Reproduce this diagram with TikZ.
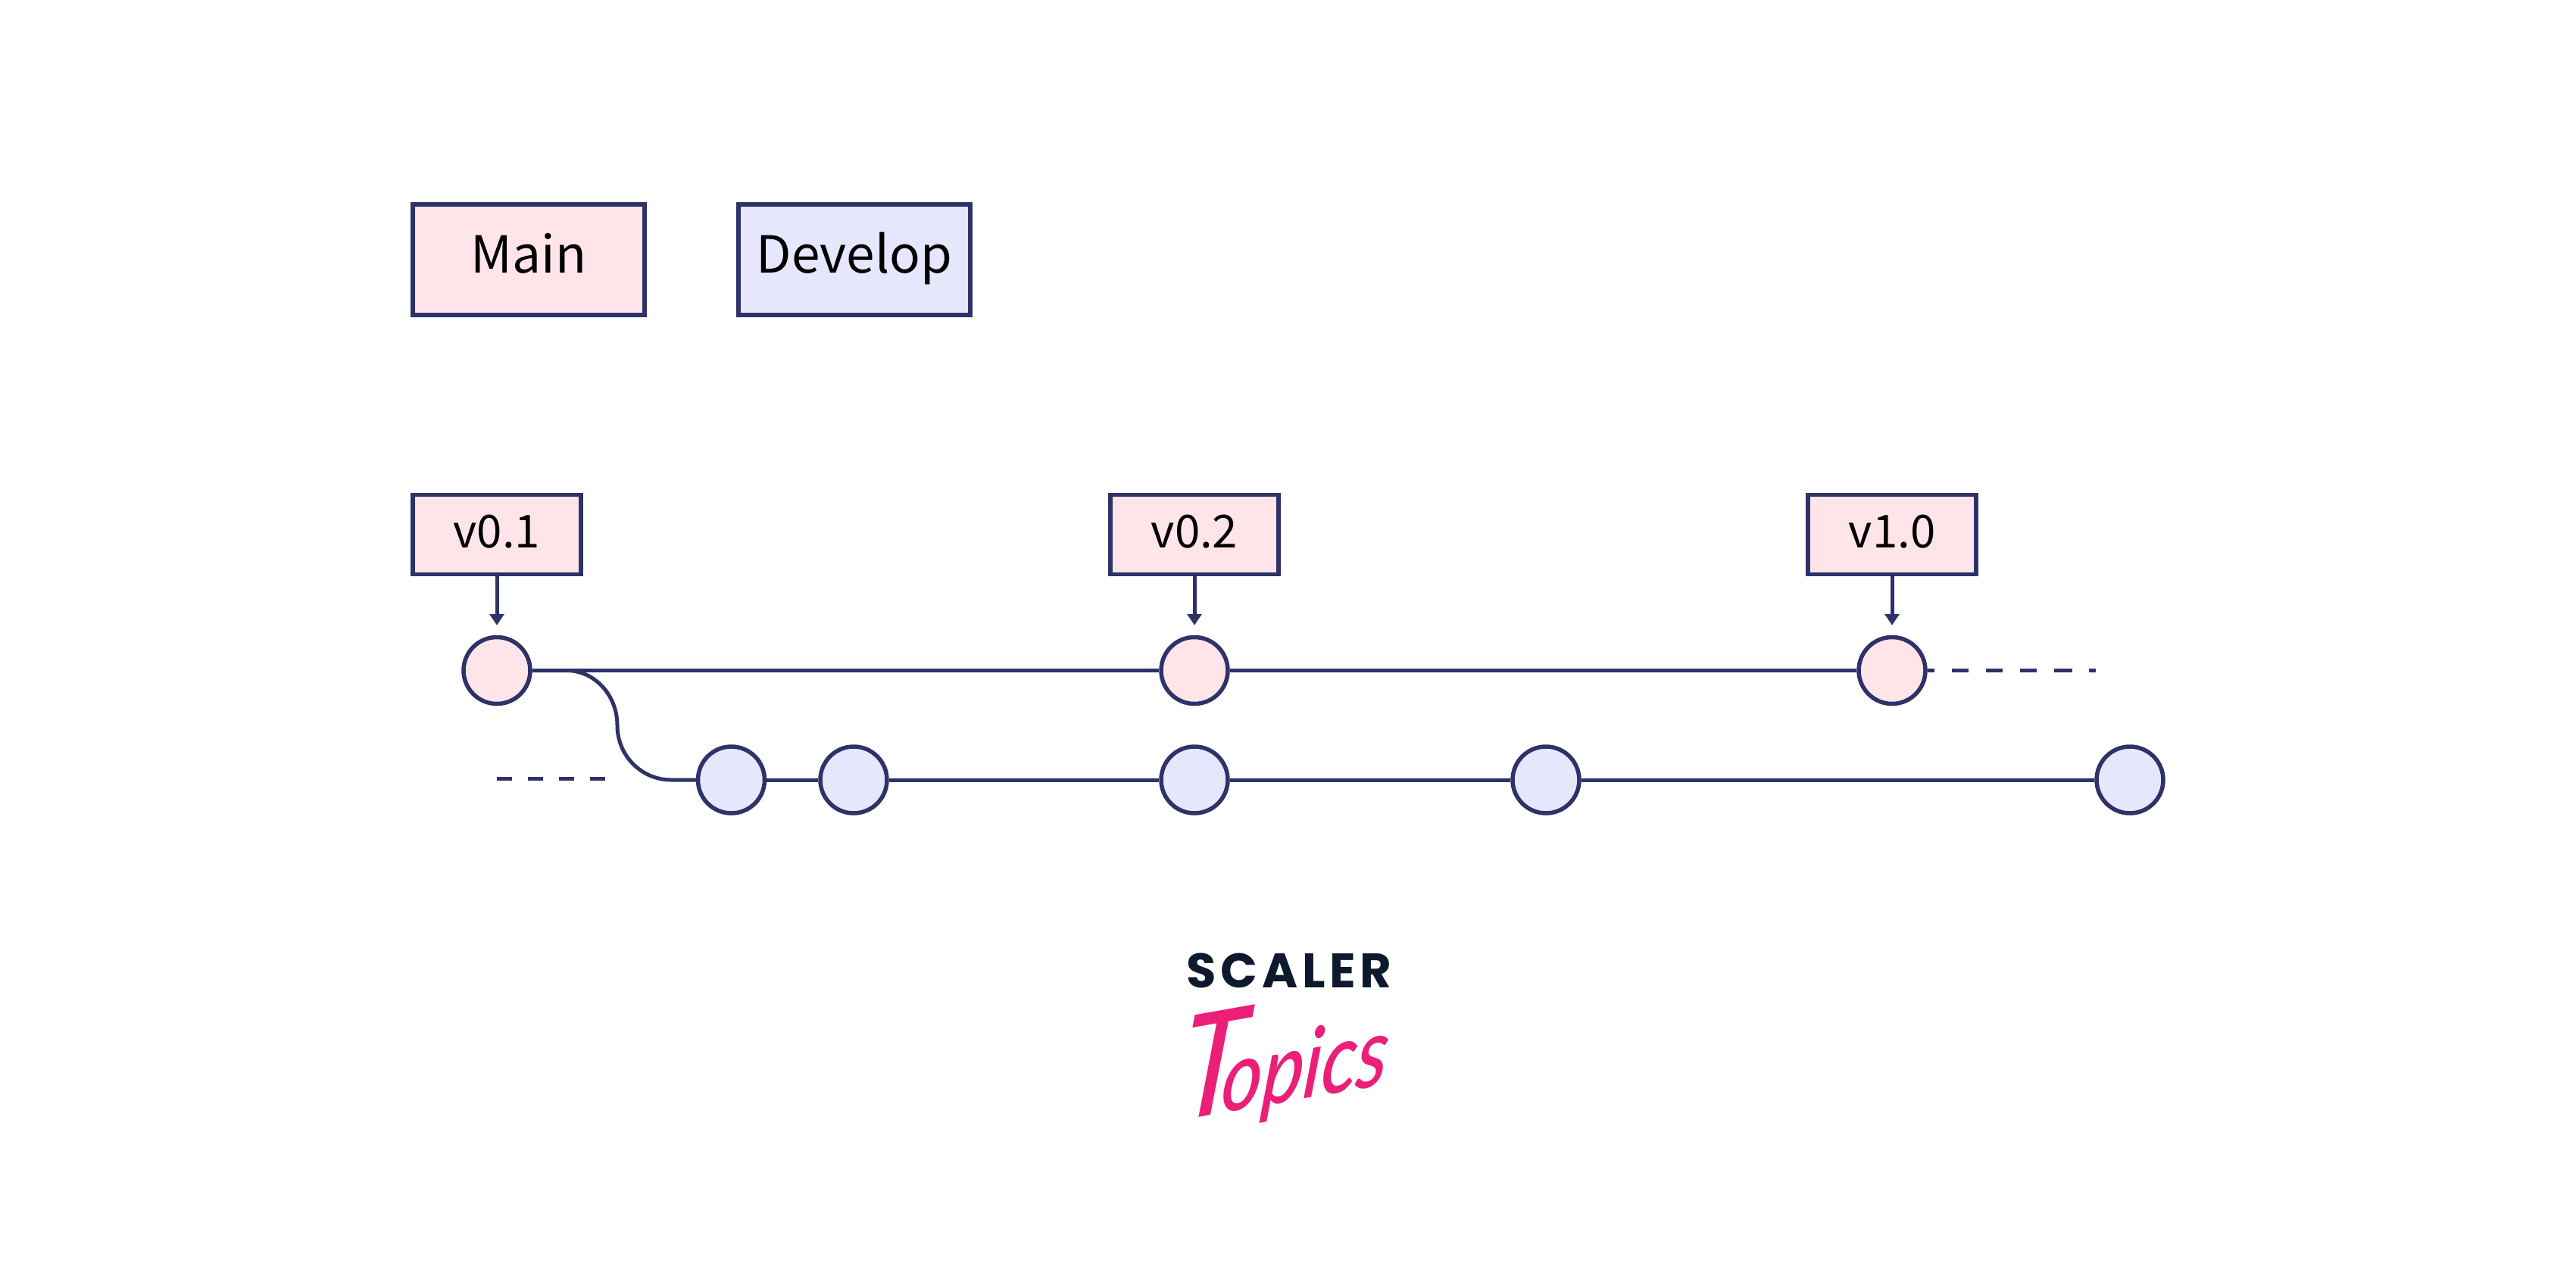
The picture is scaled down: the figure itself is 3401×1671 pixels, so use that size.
\documentclass[tikz,border=0pt]{standalone}
\usepackage{fontspec}
\usetikzlibrary{arrows.meta}
\setmainfont{Noto Sans CJK JP}
\newfontfamily\scalerfont[LetterSpace=9]{Poppins Bold}
\newfontfamily\topicsfont{Lato Medium Italic}
\definecolor{ink}{HTML}{2E3268}
\definecolor{pinkfill}{HTML}{FFE5E9}
\definecolor{lavfill}{HTML}{E6E6FC}
\definecolor{logonavy}{HTML}{0D1A2D}
\definecolor{logopink}{HTML}{EC1F78}
\tikzset{
  legendbox/.style={draw=ink,line width=5.5pt,minimum width=306pt,minimum height=146pt,inner sep=0pt,text height=49pt,text depth=15pt,font=\fontsize{67.5}{75}\selectfont,text=black},
  tagbox/.style={draw=ink,fill=pinkfill,line width=5.5pt,minimum width=222pt,minimum height=105pt,inner sep=0pt,text height=45pt,text depth=10pt,font=\fontsize{60}{68}\selectfont,text=black},
  commit/.style={circle,draw=ink,line width=5.5pt,minimum size=88pt,inner sep=0pt},
  maincommit/.style={commit,fill=pinkfill},
  devcommit/.style={commit,fill=lavfill},
  branchline/.style={draw=ink,line width=5pt},
  tagarrow/.style={draw=ink,line width=5pt,shorten >=13pt,-{Stealth[length=15pt,width=19pt,inset=0pt]}},
}
\begin{document}
\begin{tikzpicture}[x=1pt,y=-1pt]
\useasboundingbox (0,0) rectangle (3401,1671);
\node[legendbox,fill=pinkfill] (main) at (698,343) {Main};
\node[legendbox,fill=lavfill] (develop) at (1128,343) {Develop};
\node[tagbox] (t1) at (656,706) {v0.1};
\node[tagbox] (t2) at (1577,706) {v0.2};
\node[tagbox] (t3) at (2498,706) {v1.0};
\coordinate (b1) at (748,885.5);
\coordinate (b2) at (815,958);
\coordinate (b3) at (886,1030);
\coordinate (mainend) at (2767,885.5);
\coordinate (devstart) at (656,1028);
\coordinate (devdashend) at (800,1028);
\node[maincommit] (m1) at (656,885.5) {};
\node[maincommit] (m2) at (1577,885.5) {};
\node[maincommit] (m3) at (2498,885.5) {};
\node[devcommit] (d1) at (965.5,1030) {};
\node[devcommit] (d2) at (1127,1030) {};
\node[devcommit] (d3) at (1577,1030) {};
\node[devcommit] (d4) at (2041,1030) {};
\node[devcommit] (d5) at (2812,1030) {};
\draw[branchline] (m1) -- (m2);
\draw[branchline] (m2) -- (m3);
\draw[branchline,dash pattern=on 9pt off 23pt on 22pt off 23pt on 22pt off 23pt on 22pt off 23pt on 24pt off 22pt on 10pt off 100pt] (m3.east) -- (mainend);
\draw[branchline] (m1.east) -- (b1) .. controls +(37,0) and +(0,-40) .. (b2) .. controls +(0,40) and +(-39,0) .. (b3) -- (d1.west);
\draw[branchline] (d1) -- (d2);
\draw[branchline] (d2) -- (d3);
\draw[branchline] (d3) -- (d4);
\draw[branchline] (d4) -- (d5);
\draw[branchline,dash pattern=on 20pt off 21pt] (devstart) -- (devdashend);
\draw[tagarrow] (t1) -- (m1);
\draw[tagarrow] (t2) -- (m2);
\draw[tagarrow] (t3) -- (m3);
% logo
\node[inner sep=0pt,text=logonavy,font=\scalerfont\fontsize{64}{70}\selectfont] (scaler) at (1702,1282) {SCALER};
\begin{scope}[shift={(1698,1398)},rotate=10,xslant=.28,yscale=1.2,transform shape]
\node[inner sep=0pt,text=logopink,font=\topicsfont\fontsize{100}{110}\selectfont] (topics) at (0,0) {\fontsize{155}{160}\selectfont T\kern-28pt\fontsize{104}{110}\selectfont opics};
\end{scope}
\end{tikzpicture}
\end{document}
